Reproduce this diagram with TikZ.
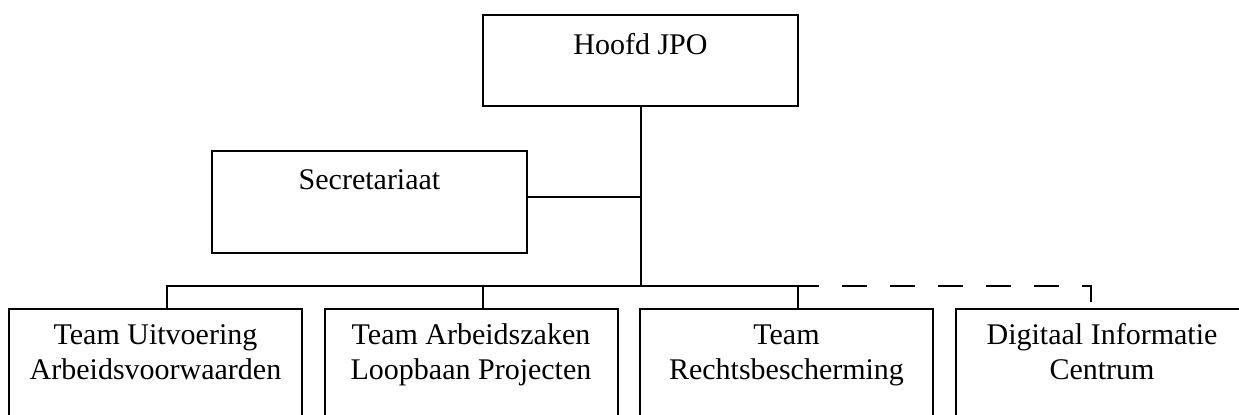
\documentclass[tikz,border=0pt]{standalone}
\usepackage{fontspec}
\setmainfont{Liberation Serif}
\usetikzlibrary{positioning}

\begin{document}
\begin{tikzpicture}[x=0.5pt,y=-0.5pt,line width=1pt,node distance=11.25pt,
    font=\fontsize{15pt}{17.5pt}\selectfont,
    base box/.style={rectangle,draw,inner sep=0pt,outer sep=0pt,align=center,anchor=north west},
    head box/.style={base box,minimum width=157.5pt,text height=20pt,text depth=25.5pt},
    staff box/.style={base box,minimum width=157.5pt,text height=19.5pt,text depth=31.5pt},
    team box/.style={base box,minimum width=146.5pt,text height=35.5pt,text depth=26.5pt},
    dashed link/.style={dash pattern=on 12.5pt off 11.5pt,dash phase=12.5pt}]
\useasboundingbox (0,0) rectangle (1239,415);

\node[head box]  (hoofd) at (483,15)  {Hoofd JPO};
\node[staff box] (secr)  at (212,151) {Secretariaat};
\node[team box]  (tua)   at (9,309)   {Team Uitvoering\\Arbeidsvoorwaarden};
\node[team box]  (tal)   [right=of tua] {Team Arbeidszaken\\Loopbaan Projecten};
\node[team box]  (trb)   [right=of tal] {Team\\Rechtsbescherming};
\node[team box]  (dic)   [right=of trb] {Digitaal Informatie\\Centrum};

\path (hoofd.south) ++(0,180) coordinate (bus);
\draw (hoofd.south) -- (bus);
\draw ([yshift=2.5pt]secr.east) -- ([yshift=2.5pt]secr.east -| hoofd.south);
\draw ([xshift=5.75pt]tua.north) |- (bus);
\draw ([xshift=5.75pt]tal.north) |- (bus);
\draw ([xshift=5.75pt]trb.north) |- (bus) -- ++(178,0) coordinate (busend);
\draw[dashed link] (busend) -| ([xshift=-5.75pt]dic.north);
\end{tikzpicture}
\end{document}
